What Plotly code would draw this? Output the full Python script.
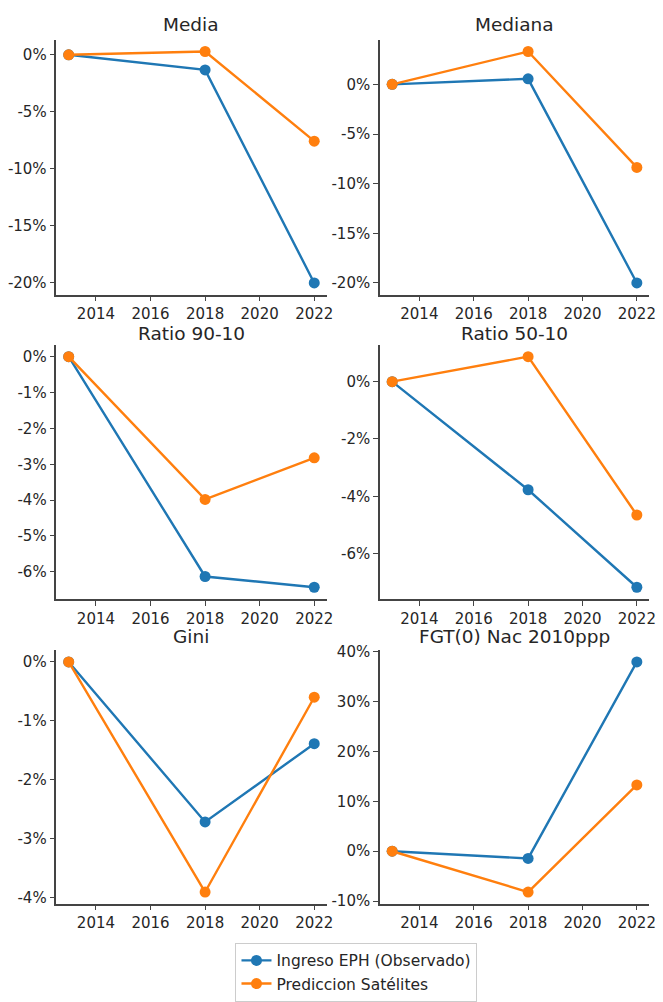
import plotly.graph_objects as go

# Years of each survey round
years = [2013, 2018, 2022]

# Panel titles, in reading order (left to right, top to bottom)
titles = ["Media", "Mediana", "Ratio 90-10", "Ratio 50-10", "Gini", "FGT(0) Nac 2010ppp"]

# Percent change relative to 2013: observed household-survey income
obs_media = [0.0, -1.33, -20.06]
obs_mediana = [0.0, 0.56, -20.0]
obs_ratio_90_10 = [0.0, -6.13, -6.43]
obs_ratio_50_10 = [0.0, -3.77, -7.17]
obs_gini = [0.0, -2.72, -1.39]
obs_fgt0 = [0.0, -1.44, 37.97]

# Percent change relative to 2013: satellite-based prediction
pred_media = [0.0, 0.29, -7.59]
pred_mediana = [0.0, 3.31, -8.36]
pred_ratio_90_10 = [0.0, -3.98, -2.82]
pred_ratio_50_10 = [0.0, 0.87, -4.65]
pred_gini = [0.0, -3.91, -0.60]
pred_fgt0 = [0.0, -8.18, 13.29]

observed = [obs_media, obs_mediana, obs_ratio_90_10, obs_ratio_50_10, obs_gini, obs_fgt0]
predicted = [pred_media, pred_mediana, pred_ratio_90_10, pred_ratio_50_10, pred_gini, pred_fgt0]

# Y tick values per panel
ytick_sets = [
    [0, -5, -10, -15, -20],
    [0, -5, -10, -15, -20],
    [0, -1, -2, -3, -4, -5, -6],
    [0, -2, -4, -6],
    [0, -1, -2, -3, -4],
    [-10, 0, 10, 20, 30, 40],
]
xticks = [2014, 2016, 2018, 2020, 2022]

series_names = ["Ingreso EPH (Observado)", "Prediccion Satélites"]
colors = ["#1f77b4", "#ff7f0e"]

W, H = 663, 1002
# Panel boxes in pixels: (left, right) per column, (top, bottom) per row
cols_px = [(57, 330), (384, 656)]
rows_px = [(33.5, 292.5), (344, 602), (654.5, 912)]
title_y_px = [18, 332, 640]

FONT = "DejaVu Sans"
TEXT = "#262626"
AXIS = "#444444"


def pct_label(v):
    return f"{v:g}%"


fig = go.Figure()

for i, title in enumerate(titles):
    r, c = divmod(i, 2)
    n = i + 1
    xa = "x" if n == 1 else f"x{n}"
    ya = "y" if n == 1 else f"y{n}"
    for vals, name, color in zip([observed[i], predicted[i]], series_names, colors):
        fig.add_trace(go.Scatter(
            x=years, y=vals, mode="lines+markers", name=name,
            line=dict(color=color, width=2.4),
            marker=dict(color=color, size=11),
            xaxis=xa, yaxis=ya, showlegend=(i == 0), cliponaxis=False,
        ))

    # matplotlib-like autoscale: 5% margin on each side of the data
    all_vals = observed[i] + predicted[i]
    lo, hi = min(all_vals), max(all_vals)
    pad = 0.05 * (hi - lo)
    xpad = 0.05 * (max(years) - min(years))

    x0, x1 = cols_px[c]
    y0, y1 = rows_px[r]
    common = dict(
        showline=True, linecolor=AXIS, linewidth=1.5, mirror=False,
        ticks="outside", ticklen=5, tickwidth=1.3, tickcolor=AXIS,
        showgrid=False, zeroline=False,
        tickfont=dict(family=FONT, size=15, color=TEXT),
    )
    fig.layout[("xaxis" if n == 1 else f"xaxis{n}")] = dict(
        domain=[x0 / W, x1 / W], anchor=ya,
        range=[min(years) - xpad, max(years) + xpad],
        tickvals=xticks, ticktext=[str(t) for t in xticks],
        **common,
    )
    yt = ytick_sets[i]
    fig.layout[("yaxis" if n == 1 else f"yaxis{n}")] = dict(
        domain=[1 - y1 / H, 1 - y0 / H], anchor=xa,
        range=[lo - pad, hi + pad],
        tickvals=yt, ticktext=[pct_label(v) for v in yt],
        **common,
    )
    fig.add_annotation(
        text=title, xref="paper", yref="paper",
        x=(x0 + x1) / 2 / W, y=1 - title_y_px[r] / H,
        xanchor="center", yanchor="middle", showarrow=False,
        font=dict(family=FONT, size=18.5, color=TEXT),
    )

fig.update_layout(
    width=W, height=H,
    margin=dict(l=0, r=0, t=0, b=0),
    paper_bgcolor="white", plot_bgcolor="white",
    font=dict(family=FONT, color=TEXT),
    legend=dict(
        x=238 / W, xanchor="left", y=1 - 952 / H, yanchor="top",
        bordercolor="#cccccc", borderwidth=1, bgcolor="white",
        font=dict(family=FONT, size=15.5, color=TEXT),
        itemwidth=30, tracegroupgap=0,
    ),
)

fig.write_html("out.html")
